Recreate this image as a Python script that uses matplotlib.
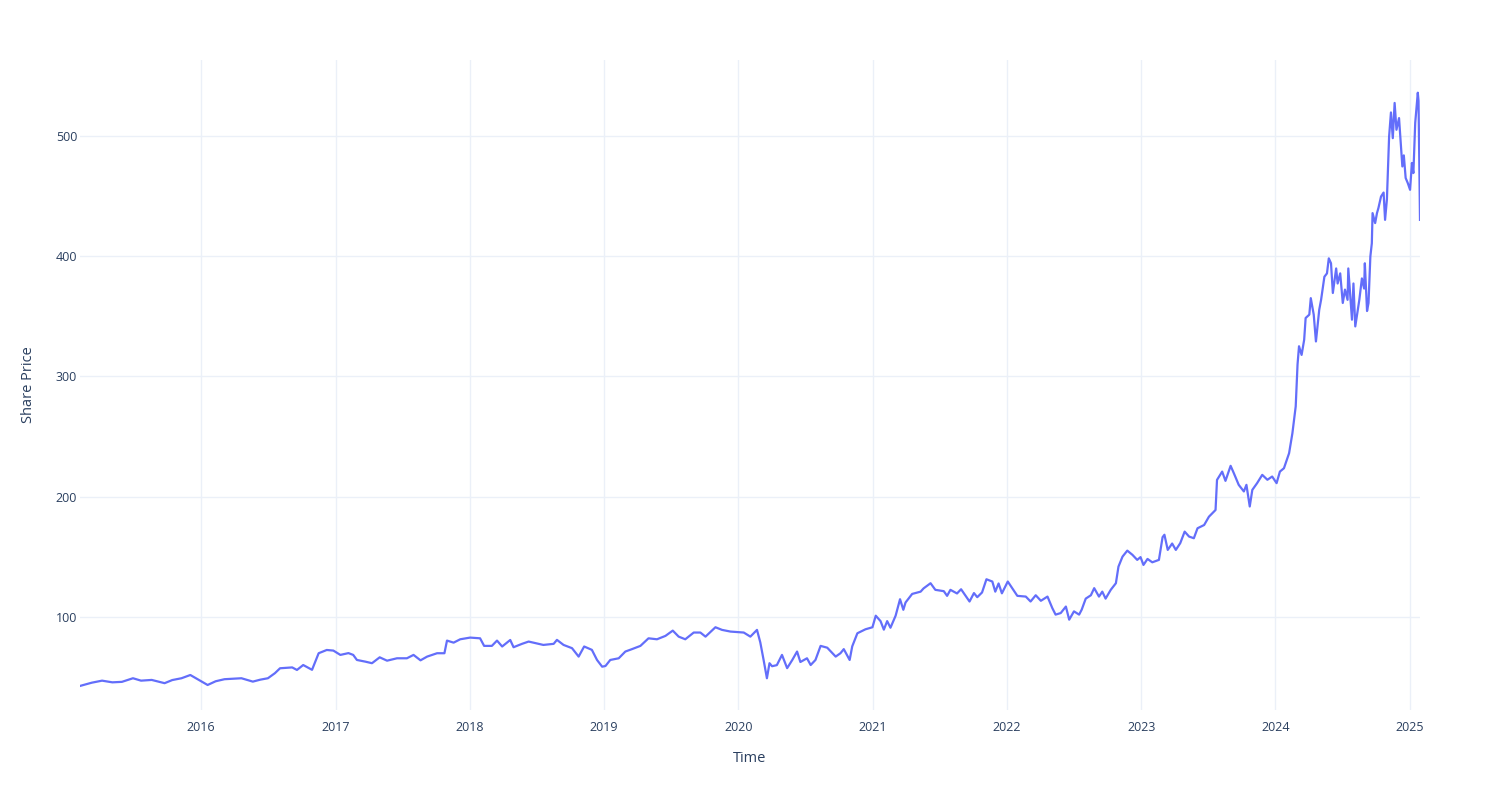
import matplotlib.pyplot as plt
import matplotlib.dates as mdates
import numpy as np

# prices (approximate)
dates = [
    '2015-02-06', '2015-03-10', '2015-04-07', '2015-05-05', '2015-05-31', '2015-06-30',
    '2015-07-22', '2015-08-20', '2015-09-24', '2015-10-15', '2015-11-09', '2015-12-03',
    '2016-01-19', '2016-02-10', '2016-03-05', '2016-04-20', '2016-05-21', '2016-06-10',
    '2016-07-01', '2016-07-20', '2016-08-03', '2016-09-05', '2016-09-18', '2016-10-05',
    '2016-10-29', '2016-11-16', '2016-12-08', '2016-12-26', '2017-01-14', '2017-02-05',
    '2017-02-18', '2017-02-28', '2017-03-23', '2017-04-10', '2017-05-01', '2017-05-21',
    '2017-06-17', '2017-07-14', '2017-08-01', '2017-08-20', '2017-09-07', '2017-10-04',
    '2017-10-24', '2017-10-31', '2017-11-18', '2017-12-06', '2018-01-02', '2018-01-29',
    '2018-02-09', '2018-03-02', '2018-03-16', '2018-03-30', '2018-04-21', '2018-04-30',
    '2018-05-23', '2018-06-10', '2018-07-07', '2018-07-20', '2018-08-17', '2018-08-26',
    '2018-09-13', '2018-10-06', '2018-10-24', '2018-11-08', '2018-11-29', '2018-12-13',
    '2018-12-27', '2019-01-05', '2019-01-18', '2019-02-10', '2019-02-28', '2019-03-18',
    '2019-04-10', '2019-05-02', '2019-05-25', '2019-06-17', '2019-07-07', '2019-07-23',
    '2019-08-10', '2019-09-02', '2019-09-20', '2019-10-04', '2019-10-31', '2019-11-18',
    '2019-12-11', '2020-01-16', '2020-02-03', '2020-02-21', '2020-03-01', '2020-03-10',
    '2020-03-19', '2020-03-26', '2020-04-02', '2020-04-15', '2020-04-29', '2020-05-13',
    '2020-05-27', '2020-06-09', '2020-06-18', '2020-07-06', '2020-07-16', '2020-07-29',
    '2020-08-12', '2020-08-30', '2020-09-22', '2020-10-05', '2020-10-14', '2020-10-30',
    '2020-11-06', '2020-11-20', '2020-12-12', '2020-12-31', '2021-01-09', '2021-01-22',
    '2021-01-31', '2021-02-09', '2021-02-18', '2021-03-04', '2021-03-16', '2021-03-25',
    '2021-03-31', '2021-04-18', '2021-05-11', '2021-05-19', '2021-06-07', '2021-06-20',
    '2021-07-13', '2021-07-22', '2021-07-31', '2021-08-18', '2021-08-29', '2021-09-21',
    '2021-10-03', '2021-10-12', '2021-10-25', '2021-11-06', '2021-11-22', '2021-11-30',
    '2021-12-09', '2021-12-18', '2022-01-03', '2022-01-15', '2022-01-29', '2022-02-21',
    '2022-03-06', '2022-03-20', '2022-04-03', '2022-04-21', '2022-05-04', '2022-05-13',
    '2022-05-27', '2022-06-10', '2022-06-19', '2022-07-02', '2022-07-16', '2022-07-23',
    '2022-08-03', '2022-08-17', '2022-08-26', '2022-09-08', '2022-09-17', '2022-09-26',
    '2022-10-10', '2022-10-24', '2022-10-31', '2022-11-11', '2022-11-24', '2022-12-08',
    '2022-12-21', '2022-12-30', '2023-01-07', '2023-01-18', '2023-01-31', '2023-02-18',
    '2023-02-28', '2023-03-05', '2023-03-14', '2023-03-26', '2023-04-05', '2023-04-17',
    '2023-04-29', '2023-05-11', '2023-05-24', '2023-06-03', '2023-06-21', '2023-07-04',
    '2023-07-22', '2023-07-26', '2023-08-09', '2023-08-18', '2023-09-01', '2023-09-10',
    '2023-09-23', '2023-10-07', '2023-10-14', '2023-10-23', '2023-10-30', '2023-11-12',
    '2023-11-26', '2023-12-10', '2023-12-23', '2024-01-04', '2024-01-13', '2024-01-24',
    '2024-02-07', '2024-02-16', '2024-02-25', '2024-03-01', '2024-03-05', '2024-03-12',
    '2024-03-19', '2024-03-23', '2024-04-02', '2024-04-06', '2024-04-14', '2024-04-20',
    '2024-04-29', '2024-05-04', '2024-05-13', '2024-05-20', '2024-05-25', '2024-05-31',
    '2024-06-05', '2024-06-14', '2024-06-18', '2024-06-25', '2024-07-02', '2024-07-08',
    '2024-07-15', '2024-07-17', '2024-07-27', '2024-07-31', '2024-08-05', '2024-08-16',
    '2024-08-23', '2024-08-29', '2024-08-31', '2024-09-06', '2024-09-10', '2024-09-15',
    '2024-09-19', '2024-09-21', '2024-09-28', '2024-10-03', '2024-10-07', '2024-10-14',
    '2024-10-21', '2024-10-25', '2024-10-30', '2024-11-05', '2024-11-10', '2024-11-15',
    '2024-11-18', '2024-11-20', '2024-11-25', '2024-12-02', '2024-12-06', '2024-12-11',
    '2024-12-15', '2024-12-20', '2024-12-26', '2025-01-01', '2025-01-06', '2025-01-10',
    '2025-01-15', '2025-01-22', '2025-01-24', '2025-01-28',
]
prices = [
    42.6, 45.3, 47, 45.6, 46, 49,
    47, 47.6, 44.9, 47.5, 49, 51.7,
    43.4, 46.5, 48.2, 49, 46.2, 47.8,
    49, 53.2, 57.3, 58, 55.9, 60,
    56, 69.8, 72.5, 72, 68.4, 69.9,
    68.4, 64.2, 62.8, 61.5, 66.4, 63.6,
    65.6, 65.6, 68.4, 63.9, 67, 69.8,
    69.8, 80.3, 78.6, 81.4, 82.8, 82.2,
    75.9, 75.9, 80.3, 75.4, 80.8, 74.8,
    77.6, 79.5, 77.6, 76.7, 77.6, 80.9,
    76.7, 74, 67, 75.4, 72.6, 64.2,
    58.6, 59.2, 64.2, 65.6, 71.2, 73.2,
    75.9, 82.2, 81.4, 84.2, 88.6, 83.6,
    81.4, 87, 87, 83.6, 91.4, 89.2,
    87.8, 87, 83.6, 89.2, 78.8, 64.2,
    49, 61.5, 59, 59.9, 68.4, 57.4,
    64.2, 71.2, 62.5, 65.6, 60, 64.2,
    75.9, 74.4, 67, 69.8, 73.2, 64.2,
    75.5, 86.4, 89.7, 91.4, 101, 96.5,
    89.4, 96.5, 91, 101, 114.7, 105.9,
    112, 119.1, 121, 123.7, 128, 122.5,
    121.4, 117.5, 122.5, 119.5, 123, 112.8,
    119.8, 116.4, 120.3, 131.3, 129.4, 121,
    127.8, 119.6, 129.4, 123.9, 117.5, 116.9,
    112.8, 118, 113.4, 116.9, 107.4, 101.9,
    103.2, 108.6, 97.7, 104.6, 101.9, 106,
    115.2, 118, 123.9, 116.9, 121, 115.2,
    122.5, 128, 141.8, 150.1, 155.1, 151.6,
    147.4, 149.7, 143.2, 148.2, 145.4, 147.4,
    166.3, 168.3, 155.7, 161, 155.7, 161.3,
    170.9, 166.8, 165.4, 173.7, 176.4, 183.3,
    188.9, 213.9, 220.8, 213.1, 225.6, 219.3,
    209.8, 204.3, 209.8, 191.8, 205.6, 211.2,
    218.1, 214, 216.7, 211.2, 220.8, 223.6,
    236.1, 252.7, 275, 310, 325, 317.8,
    330.4, 348.5, 351.3, 365, 351.3, 329,
    355.4, 363.6, 382.8, 385.6, 398.1, 394,
    369.3, 389.7, 377.2, 385.6, 361, 372.1,
    363.6, 389.7, 347.1, 377.2, 341.5, 363.6,
    381.4, 373, 394, 354.3, 361, 399.6,
    410.7, 435.7, 427.4, 435.7, 440, 449.5,
    452.8, 430.1, 447, 499.4, 519.4, 498,
    516, 527.3, 505, 514.7, 496.4, 474.5,
    483.7, 464.9, 460.5, 455.1, 477.4, 469,
    510.8, 535.8, 529, 430.1,
]
y_ticks = [100, 200, 300, 400, 500]

text_color = '#2a3f5f'
grid_color = '#ebf0f8'
plt.rcParams['font.family'] = ['Open Sans', 'DejaVu Sans']

x = np.array(dates, dtype='datetime64[D]')

fig = plt.figure(figsize=(15, 8), dpi=100)
ax = fig.add_axes([80 / 1500, 90 / 800, 1340 / 1500, 650 / 800])
ax.plot(x, prices, color='#636efa', linewidth=1.6)

ax.set_xlim(x[0], x[-1])
ax.set_ylim(22.6, 563)
ax.set_yticks(y_ticks)
ax.xaxis.set_major_locator(mdates.YearLocator())
ax.xaxis.set_major_formatter(mdates.DateFormatter('%Y'))

ax.grid(True, color=grid_color, linewidth=1)
ax.set_axisbelow(True)
for s in ax.spines.values():
    s.set_visible(False)
ax.tick_params(axis='both', length=0, labelsize=9, labelcolor=text_color)
ax.tick_params(axis='x', pad=8)
ax.tick_params(axis='y', pad=2)

ax.set_xlabel('Time', fontsize=10.5, color=text_color, labelpad=12)
ax.set_ylabel('Share Price', fontsize=10.5, color=text_color, labelpad=14)

fig.savefig('out.png', dpi=100, facecolor='white')
